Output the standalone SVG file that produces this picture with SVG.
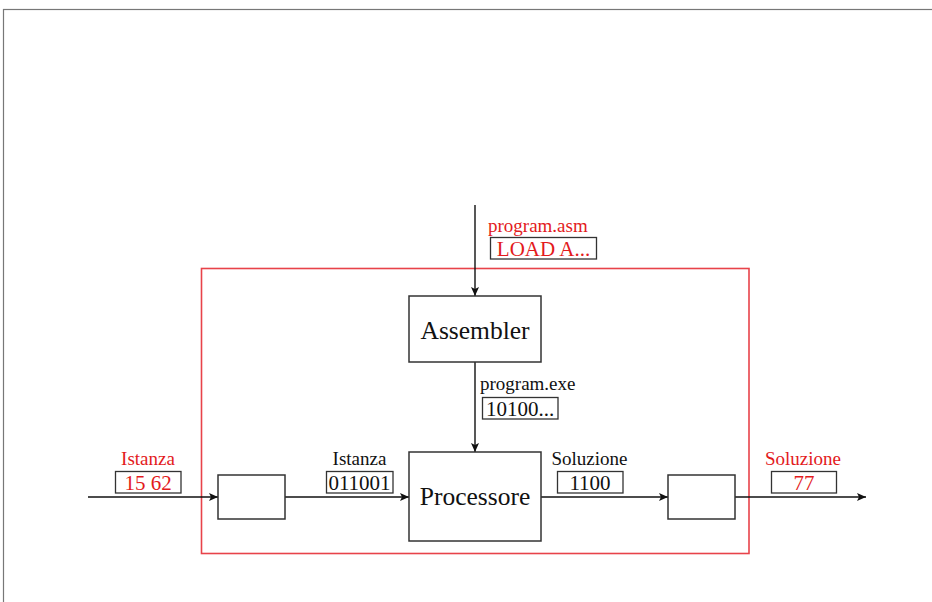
<svg xmlns="http://www.w3.org/2000/svg" width="932" height="602" viewBox="0 0 932 602">
<style>
.box{fill:#fff;stroke:#333;stroke-width:1.5}
.lbox{fill:#fff;stroke:#333;stroke-width:1.3}
.t{font-family:"Liberation Serif","Times New Roman","DejaVu Serif",serif}
.lab{font-size:19px}
.val{font-size:21px}
.big{font-size:25.5px}
.red{fill:#e31a1c}
.blk{fill:#111}
.ln{stroke:#111;stroke-width:1.4;fill:none;marker-end:url(#ah)}
</style>
<defs>
<marker id="ah" markerWidth="10" markerHeight="10" refX="9" refY="5" orient="auto" markerUnits="userSpaceOnUse">
<path d="M0,1 L9,5 L0,9 L2,5 Z" fill="#111"/>
</marker>
</defs>
<rect x="3.5" y="9.5" width="940" height="600" fill="none" stroke="#777" stroke-width="1.2"/>
<rect id="system" x="201.5" y="268.5" width="547.5" height="285" fill="none" stroke="#e8434a" stroke-width="1.6"/>
<g id="connectors">
<line class="ln" x1="475" y1="205" x2="475" y2="296"/>
<line class="ln" x1="475" y1="362" x2="475" y2="452"/>
<line class="ln" x1="88" y1="497" x2="218" y2="497"/>
<line class="ln" x1="285" y1="497" x2="409" y2="497"/>
<line class="ln" x1="541" y1="497" x2="668" y2="497"/>
<line class="ln" x1="735" y1="497" x2="866" y2="497"/>
</g>
<g id="assembler">
<rect class="box" x="409" y="296" width="132" height="66"/>
<text class="t big blk" x="475" y="339" text-anchor="middle">Assembler</text>
</g>
<g id="processore">
<rect class="box" x="409" y="452" width="132" height="89"/>
<text class="t big blk" x="475" y="505" text-anchor="middle">Processore</text>
</g>
<g id="encoder">
<rect class="box" x="218" y="475" width="67" height="44"/>
</g>
<g id="decoder">
<rect class="box" x="668" y="475" width="67" height="44"/>
</g>
<g id="lbl-asm">
<text class="t lab red" x="488" y="232">program.asm</text>
<rect class="lbox" x="490.5" y="237.5" width="106" height="21.5"/>
<text class="t val red" x="543.5" y="256" text-anchor="middle">LOAD A...</text>
</g>
<g id="lbl-exe">
<text class="t lab blk" x="480" y="390">program.exe</text>
<rect class="lbox" x="482.5" y="397.5" width="75.5" height="21.5"/>
<text class="t val blk" x="520" y="416" text-anchor="middle">10100...</text>
</g>
<g id="lbl-in">
<text class="t lab red" x="148" y="465" text-anchor="middle">Istanza</text>
<rect class="lbox" x="115.5" y="471.5" width="65.5" height="21.5"/>
<text class="t val red" x="148" y="490" text-anchor="middle">15 62</text>
</g>
<g id="lbl-bin-in">
<text class="t lab blk" x="359.5" y="465" text-anchor="middle">Istanza</text>
<rect class="lbox" x="326.5" y="471.5" width="66.5" height="21.5"/>
<text class="t val blk" x="359.5" y="490" text-anchor="middle">011001</text>
</g>
<g id="lbl-bin-out">
<text class="t lab blk" x="589.5" y="465" text-anchor="middle">Soluzione</text>
<rect class="lbox" x="557.5" y="471.5" width="65.5" height="21.5"/>
<text class="t val blk" x="590" y="490" text-anchor="middle">1100</text>
</g>
<g id="lbl-out">
<text class="t lab red" x="803" y="465" text-anchor="middle">Soluzione</text>
<rect class="lbox" x="771.5" y="471.5" width="65" height="21.5"/>
<text class="t val red" x="804" y="490" text-anchor="middle">77</text>
</g>
</svg>
